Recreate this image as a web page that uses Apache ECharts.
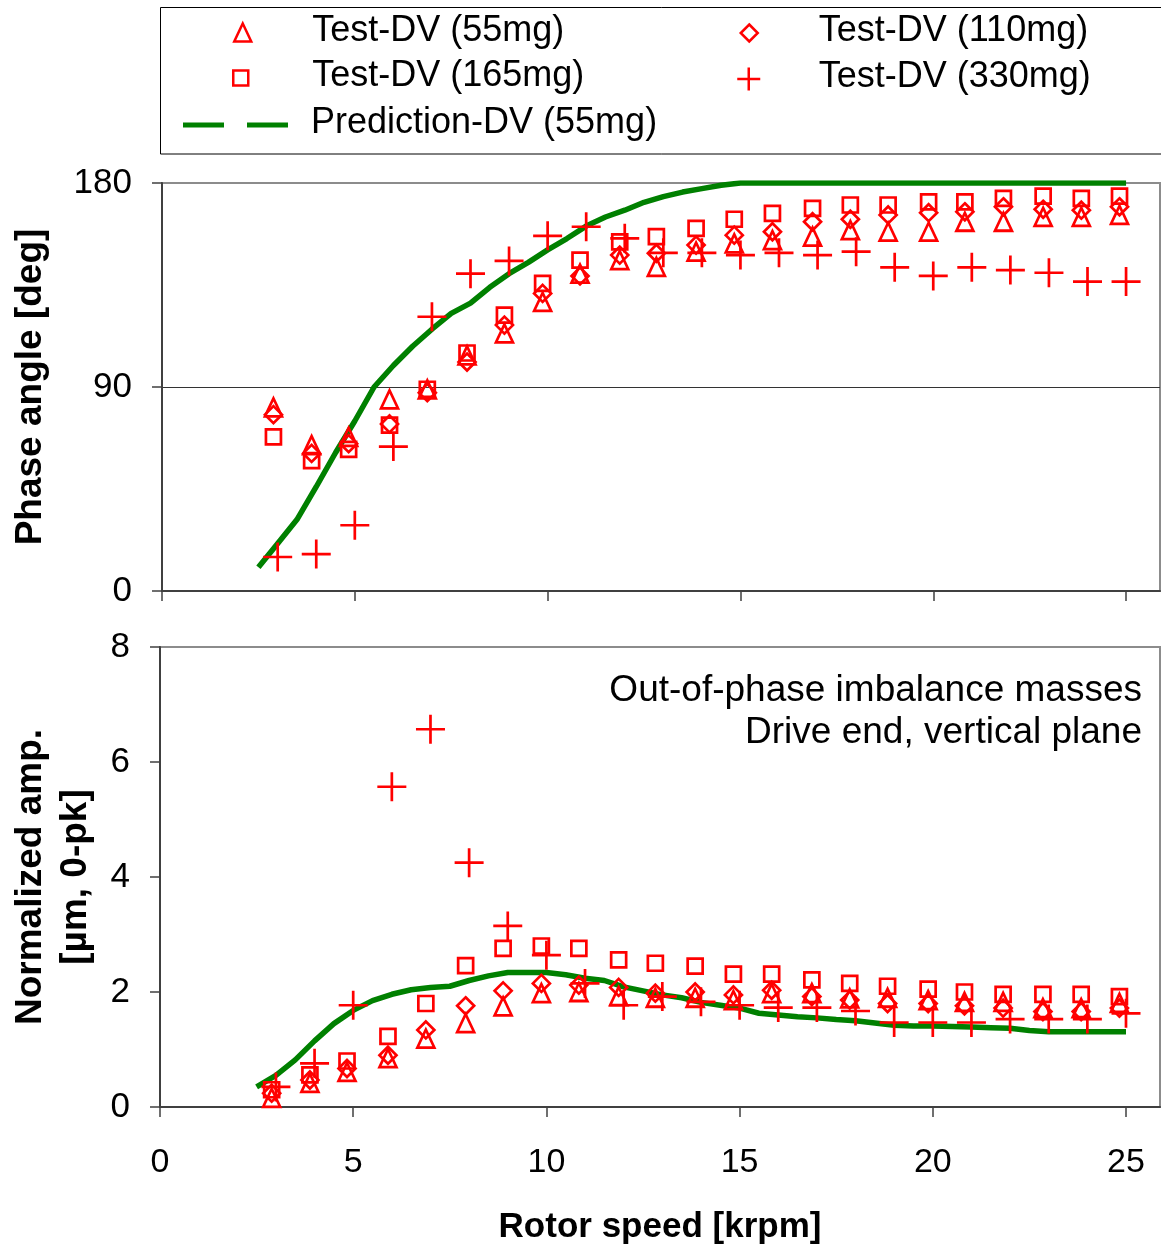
<!DOCTYPE html>
<html>
<head>
<meta charset="utf-8">
<title>Phase angle and normalized amplitude vs rotor speed</title>
<script src="https://cdn.jsdelivr.net/npm/echarts@6/dist/echarts.min.js"></script>
<style>
  html, body { margin: 0; padding: 0; background: #ffffff; }
  #chart { width: 1161px; height: 1251px; }
</style>
</head>
<body>
<div id="chart"></div>
<script>
// ---- data -------------------------------------------------------------
// Rotor speeds [krpm] of the 55/110/165 mg test records
const testSpeed = [2.89, 3.88, 4.84, 5.9, 6.88, 7.91, 8.88, 9.87, 10.84, 11.87, 12.82, 13.85,
  14.84, 15.83, 16.87, 17.85, 18.83, 19.88, 20.82, 21.82, 22.85, 23.84, 24.83];
// Rotor speeds [krpm] of the 330 mg test record
const testSpeed330 = [3, 4, 5, 6, 7, 8, 9, 10, 11, 12, 13, 14, 15, 16, 17, 18, 19, 20, 21, 22, 23, 24, 25];

// Phase angle [deg]
const phase55 = [81, 64.4, 68, 84.5, 89, 104, 113.7, 127.6, 140, 146, 143, 149.7, 153.4, 154.8,
  156.3, 159.2, 158.5, 158.5, 162.9, 162.9, 165.1, 165.1, 165.9];
const phase110 = [77.8, 60.7, 65, 73.7, 87.5, 101, 117.3, 131.3, 139, 148.2, 149, 152.6, 157,
  158.5, 162.9, 164, 165.9, 166.9, 167.3, 169.5, 168.4, 168, 169.5];
const phase165 = [68, 57.5, 62.5, 73.2, 89, 105, 121.7, 135.7, 146, 154, 156.3, 160, 164, 166.6,
  168.8, 170.3, 170.3, 171.7, 171.7, 173.2, 174.2, 173.2, 174.2];
const phase330 = [15, 16.3, 29, 63.7, 121, 140, 145.6, 156.7, 160.7, 155.6, 149.2, 149.2, 148.2,
  149.2, 148.2, 149.7, 142.8, 139, 142.8, 141.6, 140.4, 136.5, 136.5];

// Normalized amplitude [um, 0-pk]
const amp55 = [0.16, 0.42, 0.61, 0.85, 1.19, 1.46, 1.75, 1.98, 2.0, 1.93, 1.9, 1.9, 1.86, 1.98,
  1.98, 1.89, 1.9, 1.86, 1.83, 1.83, 1.72, 1.72, 1.81];
const amp110 = [0.24, 0.47, 0.67, 0.9, 1.34, 1.76, 2.02, 2.15, 2.12, 2.08, 1.98, 2.0, 1.95, 2.03,
  1.92, 1.86, 1.8, 1.8, 1.76, 1.72, 1.66, 1.66, 1.72];
const amp165 = [0.3, 0.56, 0.8, 1.23, 1.8, 2.46, 2.76, 2.8, 2.76, 2.56, 2.5, 2.45, 2.31, 2.31,
  2.21, 2.15, 2.1, 2.05, 2.0, 1.96, 1.96, 1.96, 1.92];
const amp330 = [0.35, 0.76, 1.77, 5.57, 6.57, 4.25, 3.15, 2.64, 2.15, 1.77, 1.92, 1.83, 1.77,
  1.73, 1.73, 1.67, 1.47, 1.47, 1.47, 1.53, 1.53, 1.53, 1.63];

// Predicted response, 55 mg
const predSpeed = [2.5, 3, 3.5, 4, 4.5, 5, 5.5, 6, 6.5, 7, 7.5, 8, 8.5, 9, 9.5, 10, 10.5, 11,
  11.5, 12, 12.5, 13, 13.5, 14, 14.5, 15, 15.5, 16, 16.5, 17, 17.5, 18, 18.5, 19, 19.5, 20,
  20.5, 21, 21.5, 22, 22.5, 23, 23.5, 24, 24.5, 25];
const predPhase = [10.5, 21, 31.5, 46, 61, 75, 90, 99.5, 108, 115.5, 122.5, 127, 134, 140, 145,
  150.5, 155.5, 161, 165, 168, 171.5, 174, 176, 177.5, 179, 180, 180, 180, 180, 180, 180, 180,
  180, 180, 180, 180, 180, 180, 180, 180, 180, 180, 180, 180, 180, 180];
const predAmp = [0.35, 0.55, 0.82, 1.15, 1.45, 1.68, 1.85, 1.96, 2.04, 2.08, 2.1, 2.2, 2.28, 2.34,
  2.34, 2.34, 2.3, 2.24, 2.2, 2.09, 2.02, 1.95, 1.9, 1.82, 1.77, 1.72, 1.63, 1.6, 1.57, 1.55,
  1.52, 1.5, 1.46, 1.42, 1.41, 1.41, 1.4, 1.39, 1.38, 1.37, 1.33, 1.31, 1.31, 1.31, 1.31, 1.31];

// Axis tick labels
const speedTicks = [0, 5, 10, 15, 20, 25];
const phaseTicks = [0, 90, 180];
const ampTicks = [0, 2, 4, 6, 8];

const seriesNames = ['Test-DV (55mg)', 'Test-DV (110mg)', 'Test-DV (165mg)', 'Test-DV (330mg)',
  'Prediction-DV (55mg)'];
const noteLines = ['Out-of-phase imbalance masses', 'Drive end, vertical plane'];

// ---- styling ----------------------------------------------------------
const FONT = '"Liberation Sans", Arial, Helvetica, sans-serif';
const RED = '#ff0000';
const GREEN = '#008000';
const AXIS_COLOR = '#404040';
const FRAME_COLOR = '#8c8c8c';
const CLEAR = 'rgba(0,0,0,0)';
const CROSS = 'path://M0,10H20M10,0V20';

const pairs = (xs, ys) => xs.map((x, i) => [x, ys[i]]);

function markerSeries(name, symbol, size, axis, xs, ys) {
  return {
    name, type: 'scatter', xAxisIndex: axis, yAxisIndex: axis,
    symbol, symbolSize: size, data: pairs(xs, ys),
    itemStyle: { color: CLEAR, borderColor: RED, borderWidth: 2.7, opacity: 1 },
    emphasis: { disabled: true }, silent: true, z: 3
  };
}

function predictionSeries(axis, ys) {
  return {
    name: seriesNames[4], type: 'line', xAxisIndex: axis, yAxisIndex: axis,
    data: pairs(predSpeed, ys), symbol: 'none',
    lineStyle: { color: GREEN, width: 5.5 }, itemStyle: { color: GREEN },
    emphasis: { disabled: true }, silent: true, z: 2
  };
}

function speedAxis(gridIndex, withLabels) {
  return {
    type: 'value', gridIndex, min: 0, max: 25.88, interval: 5,
    axisLine: { show: true, onZero: false, lineStyle: { color: AXIS_COLOR, width: 2 } },
    axisTick: { show: true, length: 10, customValues: speedTicks,
      lineStyle: { color: AXIS_COLOR, width: 1.5 } },
    splitLine: { show: false },
    axisLabel: { show: withLabels, customValues: speedTicks, margin: 39, fontSize: 34,
      fontFamily: FONT, color: '#000' },
    name: withLabels ? 'Rotor speed [krpm]' : '',
    nameLocation: 'middle', nameGap: 103,
    nameTextStyle: { fontSize: 35, fontWeight: 'bold', fontFamily: FONT, color: '#000' }
  };
}

function valueAxis(gridIndex, min, max, interval, ticks, name, nameGap, split) {
  return {
    type: 'value', gridIndex, min, max, interval,
    axisLine: { show: true, onZero: false, lineStyle: { color: AXIS_COLOR, width: 2 } },
    axisTick: { show: true, length: 10, customValues: ticks,
      lineStyle: { color: AXIS_COLOR, width: 1.5 } },
    splitLine: split,
    axisLabel: { customValues: ticks, margin: 30, fontSize: 35, fontFamily: FONT, color: '#000' },
    name, nameLocation: 'middle', nameGap,
    nameTextStyle: { fontSize: 37, fontWeight: 'bold', fontFamily: FONT, color: '#000',
      lineHeight: 45 }
  };
}

// one legend block per entry so every icon and label sits in its own slot
function legendEntry(name, icon, left, top, w, h, pad, itemStyle) {
  return {
    data: [{ name, icon }], left, top, itemWidth: w, itemHeight: h,
    padding: 0, itemGap: 0, selectedMode: false, orient: 'horizontal',
    itemStyle,
    formatter: n => '{t|' + n + '}',
    textStyle: {
      rich: { t: { fontSize: 36, fontFamily: FONT, color: '#000', padding: [0, 0, 3, pad] } }
    }
  };
}
const markerLegendStyle = { color: CLEAR, borderColor: RED, borderWidth: 2.5 };

const chart = echarts.init(document.getElementById('chart'), null, { renderer: 'canvas' });

chart.setOption({
  animation: false,
  backgroundColor: '#ffffff',
  grid: [
    { left: 157, top: 183, width: 1003, height: 408, show: true,
      borderColor: FRAME_COLOR, borderWidth: 2, backgroundColor: CLEAR },
    { left: 157, top: 647, width: 1003, height: 460, show: true,
      borderColor: FRAME_COLOR, borderWidth: 2, backgroundColor: CLEAR }
  ],
  xAxis: [speedAxis(0, false), speedAxis(1, true)],
  yAxis: [
    valueAxis(0, 0, 180, 90, phaseTicks, 'Phase angle [deg]', 109,
      { show: true, lineStyle: { color: [CLEAR, '#333333', CLEAR], width: 1 } }),
    valueAxis(1, 0, 8, 2, ampTicks, 'Normalized amp.\n[µm, 0-pk]', 62, { show: false })
  ],
  legend: [
    legendEntry(seriesNames[0], 'triangle', 233, 13, 17, 18, 56, markerLegendStyle),
    legendEntry(seriesNames[2], 'rect', 232, 58.5, 15, 15, 59, markerLegendStyle),
    legendEntry(seriesNames[4], 'path://M0,0H41V5H0ZM64,0H105V5H64Z', 183, 105.5, 105, 5.3, 18,
      { color: GREEN, borderWidth: 0 }),
    legendEntry(seriesNames[1], 'diamond', 739.5, 13.5, 17, 17, 56, markerLegendStyle),
    legendEntry(seriesNames[3], CROSS, 736, 59.5, 24, 23, 53, markerLegendStyle)
  ],
  graphic: [
    { type: 'rect', silent: true, z: -1,
      shape: { x: 160.5, y: 7.5, width: 1010, height: 146.5 },
      style: { fill: 'none', stroke: '#000000', lineWidth: 1 } },
    { type: 'text', silent: true, x: 1142, y: 711.5,
      style: { text: noteLines.join('\n'), font: '37px ' + FONT, fill: '#000000',
        align: 'right', verticalAlign: 'middle', lineHeight: 42 } }
  ],
  series: [
    predictionSeries(0, predPhase),
    markerSeries(seriesNames[0], 'triangle', [17, 18], 0, testSpeed, phase55),
    markerSeries(seriesNames[1], 'diamond', [17, 17], 0, testSpeed, phase110),
    markerSeries(seriesNames[2], 'rect', [15, 15], 0, testSpeed, phase165),
    markerSeries(seriesNames[3], CROSS, [29, 29], 0, testSpeed330, phase330),
    predictionSeries(1, predAmp),
    markerSeries(seriesNames[0], 'triangle', [17, 18], 1, testSpeed, amp55),
    markerSeries(seriesNames[1], 'diamond', [17, 17], 1, testSpeed, amp110),
    markerSeries(seriesNames[2], 'rect', [15, 15], 1, testSpeed, amp165),
    markerSeries(seriesNames[3], CROSS, [29, 29], 1, testSpeed330, amp330)
  ]
});
</script>
</body>
</html>
